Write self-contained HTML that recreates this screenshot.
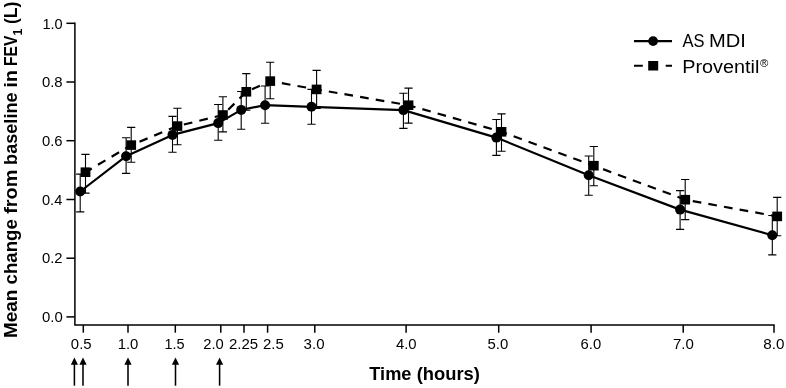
<!DOCTYPE html>
<html lang="en"><head><meta charset="utf-8"><title>FEV1 chart</title>
<style>html,body{margin:0;padding:0;background:#fff;}body{width:786px;height:388px;overflow:hidden;}svg{display:block;font-family:"Liberation Sans",sans-serif;fill:#000;}</style></head><body>
<svg width="786" height="388" viewBox="0 0 786 388">
<rect width="786" height="388" fill="#fff"/>
<g stroke="#000" stroke-width="1.5" fill="none" stroke-linecap="butt">
<path d="M74.9 22.6V324.95H774.7"/>
<path d="M66.4 316.9H74.9"/>
<path d="M66.4 258.2H74.9"/>
<path d="M66.4 199.5H74.9"/>
<path d="M66.4 140.7H74.9"/>
<path d="M66.4 82.0H74.9"/>
<path d="M66.4 23.3H74.9"/>
<path d="M83.3 324.95V332.7"/>
<path d="M128.0 324.95V332.7"/>
<path d="M175.3 324.95V332.7"/>
<path d="M220.8 324.95V332.7"/>
<path d="M244.0 324.95V332.7"/>
<path d="M267.6 324.95V332.7"/>
<path d="M314.8 324.95V332.7"/>
<path d="M406.1 324.95V332.7"/>
<path d="M498.7 324.95V332.7"/>
<path d="M591.1 324.95V332.7"/>
<path d="M683.2 324.95V332.7"/>
<path d="M774.0 324.95V332.7"/>
</g>
<g>
<text x="41.96" y="322.1" font-size="15.0px" textLength="20.73" lengthAdjust="spacingAndGlyphs">0.0</text>
<text x="41.96" y="263.4" font-size="15.0px" textLength="20.63" lengthAdjust="spacingAndGlyphs">0.2</text>
<text x="41.96" y="204.7" font-size="15.0px" textLength="20.38" lengthAdjust="spacingAndGlyphs">0.4</text>
<text x="41.96" y="145.9" font-size="15.0px" textLength="20.62" lengthAdjust="spacingAndGlyphs">0.6</text>
<text x="41.96" y="87.2" font-size="15.0px" textLength="20.71" lengthAdjust="spacingAndGlyphs">0.8</text>
<text x="42.40" y="28.5" font-size="15.0px" textLength="20.25" lengthAdjust="spacingAndGlyphs">1.0</text>
<text x="70.84" y="348.6" font-size="15.0px" textLength="20.76" lengthAdjust="spacingAndGlyphs">0.5</text>
<text x="117.65" y="348.6" font-size="15.0px" textLength="20.71" lengthAdjust="spacingAndGlyphs">1.0</text>
<text x="164.50" y="348.6" font-size="15.0px" textLength="20.17" lengthAdjust="spacingAndGlyphs">1.5</text>
<text x="203.23" y="348.6" font-size="15.0px" textLength="20.51" lengthAdjust="spacingAndGlyphs">2.0</text>
<text x="228.93" y="348.6" font-size="15.0px" textLength="29.11" lengthAdjust="spacingAndGlyphs">2.25</text>
<text x="263.03" y="348.6" font-size="15.0px" textLength="20.78" lengthAdjust="spacingAndGlyphs">2.5</text>
<text x="303.62" y="348.6" font-size="15.0px" textLength="20.91" lengthAdjust="spacingAndGlyphs">3.0</text>
<text x="395.93" y="348.6" font-size="15.0px" textLength="20.65" lengthAdjust="spacingAndGlyphs">4.0</text>
<text x="487.51" y="348.6" font-size="15.0px" textLength="20.73" lengthAdjust="spacingAndGlyphs">5.0</text>
<text x="580.56" y="348.6" font-size="15.0px" textLength="20.61" lengthAdjust="spacingAndGlyphs">6.0</text>
<text x="672.91" y="348.6" font-size="15.0px" textLength="20.85" lengthAdjust="spacingAndGlyphs">7.0</text>
<text x="763.33" y="348.6" font-size="15.0px" textLength="21.15" lengthAdjust="spacingAndGlyphs">8.0</text>
</g>
<text x="369.30" y="379.8" font-size="18.2px" font-weight="bold" textLength="42.19" lengthAdjust="spacingAndGlyphs">Time</text>
<text x="416.70" y="379.8" font-size="18.2px" font-weight="bold" textLength="63.24" lengthAdjust="spacingAndGlyphs">(hours)</text>
<g>
<text transform="translate(17.3 338.11) rotate(-90)" font-size="18.2px" font-weight="bold" textLength="48.47" lengthAdjust="spacingAndGlyphs">Mean</text>
<text transform="translate(17.3 284.42) rotate(-90)" font-size="18.2px" font-weight="bold" textLength="65.21" lengthAdjust="spacingAndGlyphs">change</text>
<text transform="translate(17.3 213.76) rotate(-90)" font-size="18.2px" font-weight="bold" textLength="44.01" lengthAdjust="spacingAndGlyphs">from</text>
<text transform="translate(17.3 164.92) rotate(-90)" font-size="18.2px" font-weight="bold" textLength="72.48" lengthAdjust="spacingAndGlyphs">baseline</text>
<text transform="translate(17.3 87.49) rotate(-90)" font-size="18.2px" font-weight="bold" textLength="17.33" lengthAdjust="spacingAndGlyphs">in</text>
<text transform="translate(17.3 66.00) rotate(-90)" font-size="18.2px" font-weight="bold" textLength="30.38" lengthAdjust="spacingAndGlyphs">FEV</text>
<text transform="translate(17.3 24.00) rotate(-90)" font-size="18.2px" font-weight="bold" textLength="22.48" lengthAdjust="spacingAndGlyphs">(L)</text>
<text transform="translate(22 35.6) rotate(-90)" font-size="12.3px" font-weight="bold">1</text>
</g>
<g stroke="#000" stroke-width="1.55" fill="#000">
<path d="M74.4 385.7V364"/><path stroke="none" d="M74.4 357.5L78.0 364.8H70.80000000000001Z"/>
<path d="M83.0 385.7V364"/><path stroke="none" d="M83.0 357.5L86.6 364.8H79.4Z"/>
<path d="M128.0 385.7V364"/><path stroke="none" d="M128.0 357.5L131.6 364.8H124.4Z"/>
<path d="M175.5 385.7V364"/><path stroke="none" d="M175.5 357.5L179.1 364.8H171.9Z"/>
<path d="M219.6 385.7V364"/><path stroke="none" d="M219.6 357.5L223.2 364.8H216.0Z"/>
</g>
<g stroke="#000" stroke-width="1.1" fill="none">
<path d="M80.2 174.1V211.9M76.10000000000001 174.1H84.3M76.10000000000001 211.9H84.3"/>
<path d="M126.1 137.7V173.4M122.0 137.7H130.2M122.0 173.4H130.2"/>
<path d="M172.5 116.4V152.3M168.4 116.4H176.6M168.4 152.3H176.6"/>
<path d="M218.2 104.5V140.3M214.1 104.5H222.29999999999998M214.1 140.3H222.29999999999998"/>
<path d="M241.2 91.5V129.2M237.1 91.5H245.29999999999998M237.1 129.2H245.29999999999998"/>
<path d="M265.1 86.0V123.3M261.0 86.0H269.20000000000005M261.0 123.3H269.20000000000005"/>
<path d="M311.5 89.4V124.2M307.4 89.4H315.6M307.4 124.2H315.6"/>
<path d="M403.4 93.2V128.4M399.29999999999995 93.2H407.5M399.29999999999995 128.4H407.5"/>
<path d="M496.4 119.5V155.4M492.29999999999995 119.5H500.5M492.29999999999995 155.4H500.5"/>
<path d="M588.7 156.0V195.2M584.6 156.0H592.8000000000001M584.6 195.2H592.8000000000001"/>
<path d="M680.1 190.6V229.4M676.0 190.6H684.2M676.0 229.4H684.2"/>
<path d="M772.3 215.5V254.9M768.1999999999999 215.5H776.4M768.1999999999999 254.9H776.4"/>
<path d="M85.5 154.4V193.1M81.4 154.4H89.6M81.4 193.1H89.6"/>
<path d="M131.2 127.4V162.2M127.1 127.4H135.29999999999998M127.1 162.2H135.29999999999998"/>
<path d="M177.4 108.3V144.7M173.3 108.3H181.5M173.3 144.7H181.5"/>
<path d="M222.9 96.7V131.9M218.8 96.7H227.0M218.8 131.9H227.0"/>
<path d="M246.3 73.6V110.3M242.20000000000002 73.6H250.4M242.20000000000002 110.3H250.4"/>
<path d="M270.2 62.3V98.7M266.09999999999997 62.3H274.3M266.09999999999997 98.7H274.3"/>
<path d="M316.6 70.4V108.4M312.5 70.4H320.70000000000005M312.5 108.4H320.70000000000005"/>
<path d="M408.5 88.1V123.1M404.4 88.1H412.6M404.4 123.1H412.6"/>
<path d="M501.5 113.9V151.3M497.4 113.9H505.6M497.4 151.3H505.6"/>
<path d="M593.8 146.5V185.7M589.6999999999999 146.5H597.9M589.6999999999999 185.7H597.9"/>
<path d="M685.2 179.5V219.6M681.1 179.5H689.3000000000001M681.1 219.6H689.3000000000001"/>
<path d="M777.2 197.4V235.7M773.1 197.4H781.3000000000001M773.1 235.7H781.3000000000001"/>
</g>
<polyline points="80.2,191.5 126.1,156.2 172.5,134.9 218.2,123.1 241.2,109.9 265.1,105.2 311.5,106.8 403.4,110.1 496.4,137.6 588.7,175.2 680.1,209.6 772.3,235.2" fill="none" stroke="#000" stroke-width="2.2" stroke-linejoin="round"/>
<polyline points="85.5,172.2 131.2,145.1 177.4,126.1 222.9,115.0 246.3,91.8 270.2,81.1 316.6,89.4 408.5,105.2 501.5,131.8 593.8,165.7 685.2,199.7 777.2,216.4" fill="none" stroke="#000" stroke-width="2.2" stroke-dasharray="8.7 7.18" stroke-dashoffset="1.4"/>
<circle cx="80.2" cy="191.5" r="5"/>
<circle cx="126.1" cy="156.2" r="5"/>
<circle cx="172.5" cy="134.9" r="5"/>
<circle cx="218.2" cy="123.1" r="5"/>
<circle cx="241.2" cy="109.9" r="5"/>
<circle cx="265.1" cy="105.2" r="5"/>
<circle cx="311.5" cy="106.8" r="5"/>
<circle cx="403.4" cy="110.1" r="5"/>
<circle cx="496.4" cy="137.6" r="5"/>
<circle cx="588.7" cy="175.2" r="5"/>
<circle cx="680.1" cy="209.6" r="5"/>
<circle cx="772.3" cy="235.2" r="5"/>
<rect x="80.6" y="167.4" width="9.8" height="9.6"/>
<rect x="126.3" y="140.3" width="9.8" height="9.6"/>
<rect x="172.5" y="121.3" width="9.8" height="9.6"/>
<rect x="218.0" y="110.2" width="9.8" height="9.6"/>
<rect x="241.4" y="87.0" width="9.8" height="9.6"/>
<rect x="265.3" y="76.3" width="9.8" height="9.6"/>
<rect x="311.7" y="84.6" width="9.8" height="9.6"/>
<rect x="403.6" y="100.4" width="9.8" height="9.6"/>
<rect x="496.6" y="127.0" width="9.8" height="9.6"/>
<rect x="588.9" y="160.9" width="9.8" height="9.6"/>
<rect x="680.3" y="194.9" width="9.8" height="9.6"/>
<rect x="772.3" y="211.6" width="9.8" height="9.6"/>
<path d="M634 41.1H672" stroke="#000" stroke-width="2.1"/><circle cx="653.1" cy="41.1" r="4.9"/>
<path d="M634 65.7H642.8M665.7 65.7H672" stroke="#000" stroke-width="2.1"/><rect x="648.2" y="61" width="10" height="9.5"/>
<text x="682.60" y="47.1" font-size="18px" textLength="22.0" lengthAdjust="spacingAndGlyphs">AS</text>
<text x="709.14" y="47.1" font-size="18px" textLength="36.82" lengthAdjust="spacingAndGlyphs">MDI</text>
<text x="682.30" y="72.5" font-size="18px" textLength="77.04" lengthAdjust="spacingAndGlyphs">Proventil</text>
<text x="759.9" y="67" font-size="11.3px">®</text>
</svg></body></html>
